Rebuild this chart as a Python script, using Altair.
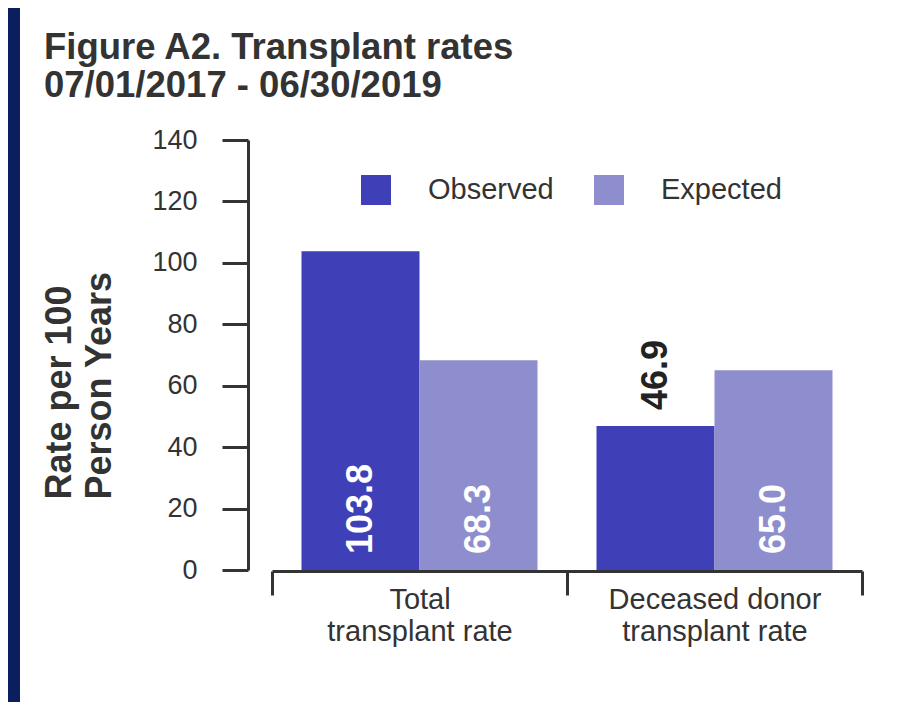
import altair as alt
import pandas as pd

# ---- data ----
categories = ["Total\ntransplant rate", "Deceased donor\ntransplant rate"]
series = ["Observed", "Expected"]
observed = [103.8, 46.9]
expected = [68.3, 65.0]
y_ticks = [0, 20, 40, 60, 80, 100, 120, 140]
colors = ["#3f3fb8", "#8e8ece"]
title_lines = ["Figure A2. Transplant rates", "07/01/2017 - 06/30/2019"]
y_title_lines = ["Rate per 100", "Person Years"]

rows = []
for i, c in enumerate(categories):
    rows.append({"category": c, "series": "Observed", "value": observed[i]})
    rows.append({"category": c, "series": "Expected", "value": expected[i]})
df = pd.DataFrame(rows)

INK = "#333333"
NAVY = "#0b1f5e"
FONT = "Liberation Sans"

x_enc = alt.X(
    "category:N",
    sort=categories,
    scale=alt.Scale(paddingInner=0, paddingOuter=0),
    axis=alt.Axis(
        title=None,
        labelAngle=0,
        tickBand="extent",
        labelExpr="split(datum.label, '\\n')",
        labelFontSize=29,
        labelLineHeight=32,
        labelPadding=-10,
        labelLimit=400,
        labelColor=INK,
        tickSize=24,
        tickWidth=3,
        tickColor=INK,
        domainWidth=3,
        domainColor=INK,
        offset=1,
        zindex=2,
    ),
)
xo_enc = alt.XOffset("series:N", sort=series,
                     scale=alt.Scale(paddingInner=0, paddingOuter=0.25))

y_scale = alt.Scale(domain=[0, 140], nice=False)
y_axis = alt.Axis(
    values=y_ticks,
    title=y_title_lines,
    offset=24,
    tickSize=26,
    tickWidth=3,
    tickColor=INK,
    domainWidth=3,
    domainColor=INK,
    labelPadding=25,
    labelFontSize=27,
    labelColor=INK,
    titleFontSize=36,
    titleFontWeight="bold",
    titleColor=INK,
    titleAngle=270,
    titleAlign="left",
    titleBaseline="top",
    titleX=-206,
    titleY=359,
    titleLineHeight=40,
    grid=False,
    zindex=2,
)

base = alt.Chart(df)

bars = base.mark_bar().encode(
    x=x_enc,
    xOffset=xo_enc,
    y=alt.Y("value:Q", scale=y_scale, axis=y_axis),
    color=alt.Color(
        "series:N",
        sort=series,
        scale=alt.Scale(domain=series, range=colors),
        legend=alt.Legend(
            title=None,
            orient="none",
            legendX=89,
            legendY=35,
            direction="horizontal",
            symbolType="square",
            symbolSize=900,
            symbolStrokeWidth=0,
            labelFontSize=29,
            labelColor=INK,
            labelOffset=37,
            columnPadding=40,
            padding=0,
        ),
    ),
)

inside = base.transform_filter("datum.value >= 50").mark_text(
    angle=270, align="left", baseline="middle", dx=16,
    fontSize=36, fontWeight="bold", color="white",
).encode(
    x=x_enc,
    xOffset=xo_enc,
    y=alt.YDatum(0, scale=y_scale, axis=y_axis),
    text=alt.Text("value:Q", format=".1f"),
)

outside = base.transform_filter("datum.value < 50").mark_text(
    angle=270, align="left", baseline="middle", dx=16,
    fontSize=36, fontWeight="bold", color="#222222",
).encode(
    x=x_enc,
    xOffset=xo_enc,
    y=alt.Y("value:Q", scale=y_scale, axis=y_axis),
    text=alt.Text("value:Q", format=".1f"),
)

sheet = alt.Chart(pd.DataFrame({"panel": ["sheet"]})).mark_rect(color="white").encode(
    x=alt.value(-252), x2=alt.value(636), y=alt.value(-132), y2=alt.value(562)
)

chart = (
    alt.layer(sheet, bars, inside, outside)
    .properties(
        width=590,
        height=430,
        autosize=alt.AutoSizeParams(type="none"),
        padding={"left": 264, "top": 132, "right": 46, "bottom": 132},
        background=NAVY,
        title=alt.TitleParams(
            text=title_lines,
            orient="none",
            anchor="start",
            frame="group",
            baseline="top",
            fontSize=36.5,
            fontWeight="bold",
            color=INK,
            lineHeight=38,
            dx=-228,
            dy=-110,
        ),
    )
    .configure(font=FONT)
    .configure_axis(labelFont=FONT, titleFont=FONT)
    .configure_legend(labelFont=FONT)
    .configure_title(font=FONT)
    .configure_text(font=FONT)
    .configure_view(stroke=None)
)

chart.save("out.html", embed_options={"renderer": "svg", "actions": False})
